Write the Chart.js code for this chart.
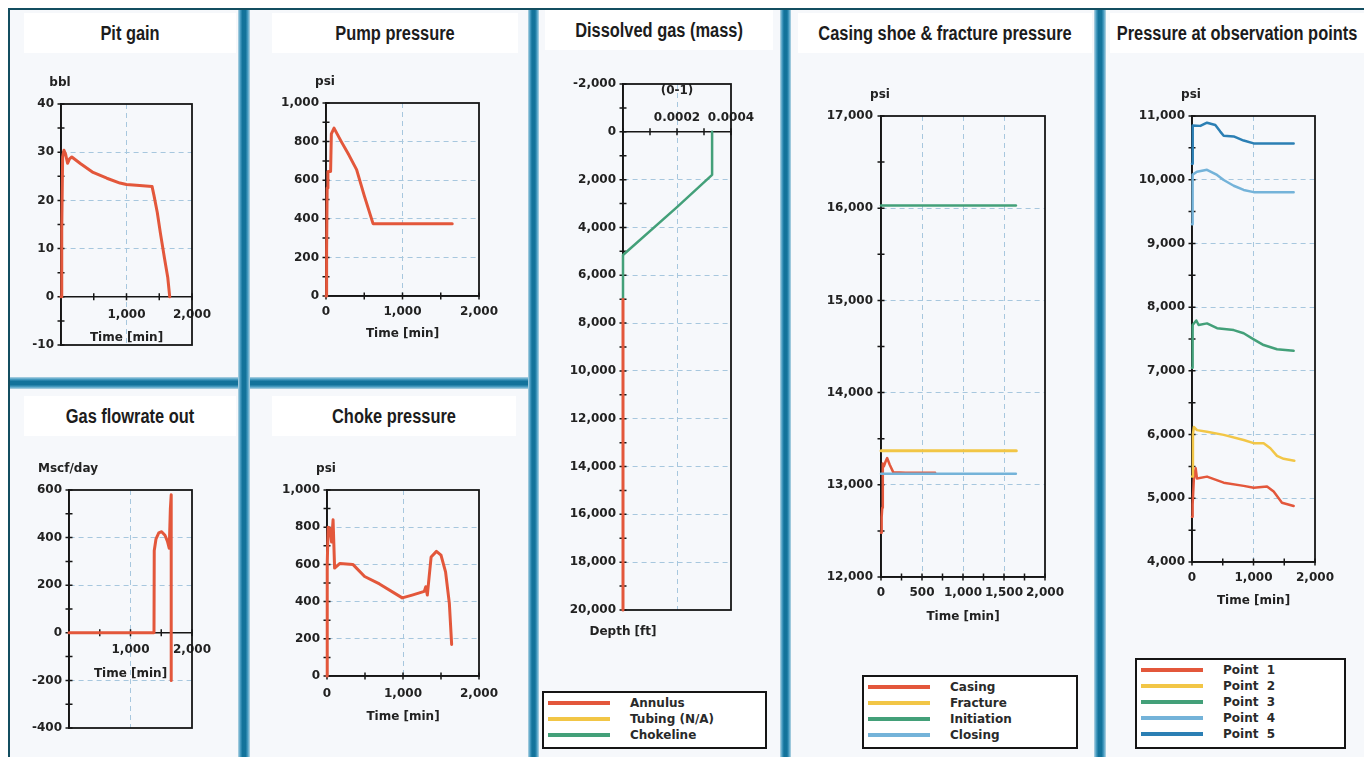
<!DOCTYPE html>
<html>
<head>
<meta charset="utf-8">
<script src="https://cdn.jsdelivr.net/npm/chart.js@4.4.1/dist/chart.umd.min.js"></script>
<style>
  html, body { margin: 0; padding: 0; background: #fff; }
  #page { position: relative; width: 1364px; height: 757px; overflow: hidden; background: #fff; }
  .bg { position: absolute; left: 10px; top: 10px; width: 1354px; height: 747px; background: #f6f8fb; }
  .edge { position: absolute; background: #134d60; }
  .sepV { position: absolute; top: 10px; height: 747px;
    background: linear-gradient(90deg, #b8d6e4 0%, #4c9fc4 18%, #13739b 36%, #13739b 64%, #4c9fc4 82%, #b8d6e4 100%); }
  .sepH { position: absolute;
    background: linear-gradient(180deg, #b8d6e4 0%, #4c9fc4 18%, #13739b 36%, #13739b 64%, #4c9fc4 82%, #b8d6e4 100%); }
  .ttl { position: absolute; height: 40px; background: #fff; white-space: nowrap;
    font: bold 20px "Liberation Sans", Arial, sans-serif; line-height: 40px; color: #1c1c1c; }
  .ttl span { position: absolute; left: 50%; top: 0; transform: translateX(-50%) scaleX(0.82); transform-origin: 50% 50%; }
  .chart { position: absolute; }
  .legend { position: absolute; box-sizing: border-box; border: 2.5px solid #151515; background: #fff; padding-top: 2px;
    font: bold 12px "DejaVu Sans", sans-serif; color: #2a2a2a; }
  .legend .row { position: relative; height: 16px; }
  .legend .sw { position: absolute; left: 4px; top: 6px; width: 62px; height: 4px; }
  .legend .lb { position: absolute; left: 86px; top: 0; line-height: 16px; white-space: pre; }
</style>
</head>
<body>
<div id="page">
  <div class="bg"></div>

  <div class="ttl" style="left:24px;top:13px;width:212px;"><span>Pit gain</span></div>
  <div class="ttl" style="left:272px;top:13px;width:246px;"><span>Pump pressure</span></div>
  <div class="ttl" style="left:24px;top:396px;width:212px;"><span>Gas flowrate out</span></div>
  <div class="ttl" style="left:272px;top:396px;width:244px;"><span>Choke pressure</span></div>
  <div class="ttl" style="left:545px;top:10px;width:228px;"><span>Dissolved gas (mass)</span></div>
  <div class="ttl" style="left:798px;top:13px;width:294px;"><span>Casing shoe &amp; fracture pressure</span></div>
  <div class="ttl" style="left:1110px;top:13px;width:254px;"><span>Pressure at observation points</span></div>

  <div class="chart" id="pit"></div>
  <div class="chart" id="pump"></div>
  <div class="chart" id="gas"></div>
  <div class="chart" id="choke"></div>
  <div class="chart" id="dissolved"></div>
  <div class="chart" id="casing"></div>
  <div class="chart" id="obs"></div>

  <div class="legend" id="legDissolved" style="left:542px;top:691px;width:225px;height:58px;"></div>
  <div class="legend" id="legCasing" style="left:862px;top:675px;width:216px;height:74px;"></div>
  <div class="legend" id="legObs" style="left:1135px;top:658px;width:211px;height:91px;"></div>

  <div class="sepH" style="left:10px;top:377px;width:518px;height:12px;"></div>
  <div class="sepV" style="left:238px;width:12px;"></div>
  <div class="sepV" style="left:528px;width:11px;"></div>
  <div class="sepV" style="left:780px;width:11px;"></div>
  <div class="sepV" style="left:1094px;width:12px;"></div>

  <div class="edge" style="left:8px;top:8px;width:1356px;height:2px;"></div>
  <div class="edge" style="left:8px;top:8px;width:2px;height:749px;"></div>
</div>

<script>
// ---- data (time in min) ----
const pitTime = [0, 8, 15, 25, 45, 70, 100, 130, 165, 300, 490, 700, 900, 1000, 1200, 1390, 1420, 1470, 1520, 1580, 1630, 1660];
const pitGain = [0, 13, 14, 29, 30.4, 29.6, 27.7, 28.6, 29, 27.6, 25.8, 24.6, 23.6, 23.3, 23.1, 22.9, 21, 17.5, 13, 8, 4, 0];

const pumpTime = [0, 8, 15, 25, 60, 70, 105, 200, 300, 400, 500, 615, 1000, 1650];
const pumpPsi = [0, 230, 560, 645, 645, 840, 870, 800, 730, 655, 520, 375, 375, 375];

const gasTime = [0, 1382, 1386, 1415, 1460, 1506, 1560, 1600, 1630, 1648, 1662, 1662];
const gasRate = [0, 0, 345, 395, 420, 425, 410, 385, 355, 520, 580, -200];

const chokeTime = [0, 3, 15, 40, 60, 80, 100, 170, 340, 495, 690, 990, 1120, 1280, 1300, 1320, 1370, 1440, 1500, 1560, 1610, 1640];
const chokePsi = [0, 600, 800, 790, 720, 840, 580, 605, 600, 535, 495, 420, 435, 455, 480, 435, 640, 670, 650, 560, 390, 170];

// dissolved gas: mass fraction vs depth (ft)
const annulusFrac = [0, 0];
const annulusDepth = [7000, 20000];
const chokelineFrac = [0.00033, 0.00033, 0.0002, 0, 0];
const chokelineDepth = [0, 1800, 3150, 5150, 7000];

const casingTime = [0, 8, 15, 22, 35, 55, 75, 105, 150, 300, 500, 660];
const casingPsi = [12480, 12650, 12750, 13230, 13200, 13250, 13290, 13220, 13135, 13130, 13130, 13130];
const fractureTime = [0, 1650];
const fracturePsi = [13370, 13370];
const initiationTime = [0, 1645];
const initiationPsi = [16030, 16030];
const closingTime = [0, 1645];
const closingPsi = [13120, 13120];

const point1Time = [0, 10, 30, 60, 81, 244, 515, 840, 1003, 1220, 1328, 1463, 1653];
const point1Psi = [4710, 4900, 5300, 5470, 5310, 5340, 5245, 5195, 5165, 5185, 5105, 4930, 4880];
const point2Time = [0, 15, 30, 81, 244, 515, 840, 1003, 1165, 1274, 1382, 1490, 1664];
const point2Psi = [5340, 6000, 6120, 6070, 6045, 5995, 5915, 5865, 5865, 5785, 5665, 5620, 5590];
const point3Time = [0, 10, 70, 108, 244, 407, 678, 840, 1003, 1165, 1382, 1653];
const point3Psi = [7050, 7720, 7790, 7720, 7745, 7670, 7640, 7590, 7495, 7405, 7340, 7315];
const point4Time = [0, 10, 81, 244, 407, 515, 678, 840, 1003, 1653];
const point4Psi = [9300, 10080, 10125, 10155, 10075, 9995, 9905, 9840, 9805, 9805];
const point5Time = [0, 8, 15, 136, 244, 379, 460, 515, 678, 840, 1003, 1653];
const point5Psi = [10250, 10600, 10850, 10845, 10895, 10860, 10755, 10690, 10680, 10615, 10570, 10570];

// ---- look ----
const RED = '#e3573b', YELLOW = '#f2c646', GREEN = '#43a079', LBLUE = '#74b3d9', DBLUE = '#2b7fb4';
const INK = '#161616', GRID = '#a7c7de', LABEL = '#222';
const TICK_FONT = { family: 'DejaVu Sans', size: 12, weight: 'bold' };
const Y_W = 58; // y axis box width; labels are clipped to it

const near = (a, b) => Math.abs(a - b) <= Math.abs(b) * 1e-6 + 1e-12;
const thousands = (v) => v.toLocaleString('en-US');
const pts = (xs, ys) => xs.map((x, i) => ({ x, y: ys[i] }));

function line(label, xs, ys, color, width = 3) {
  return { label, data: pts(xs, ys), borderColor: color, borderWidth: width, pointRadius: 0, tension: 0,
    fill: false, clip: 6, borderJoinStyle: 'round', borderCapStyle: 'round' };
}

// frame, ticks across the axes, unit text
const panelDecor = {
  id: 'panelDecor',
  beforeDatasetsDraw(chart, args, opts) {
    const { ctx, chartArea: a, scales: { x, y } } = chart;
    const axisY = opts.xAt == null ? a.bottom : y.getPixelForValue(opts.xAt);
    ctx.save();
    ctx.strokeStyle = INK;
    ctx.lineWidth = 1.8;
    ctx.strokeRect(a.left, a.top, a.right - a.left, a.bottom - a.top);
    ctx.lineWidth = 1.5;
    ctx.beginPath();
    for (const t of y.ticks) { const p = y.getPixelForValue(t.value); ctx.moveTo(a.left - 3.5, p); ctx.lineTo(a.left + 3.5, p); }
    for (const t of x.ticks) { const p = x.getPixelForValue(t.value); ctx.moveTo(p, axisY - 3.5); ctx.lineTo(p, axisY + 3.5); }
    ctx.stroke();
    ctx.restore();
  },
  afterDraw(chart, args, opts) {
    const { ctx, chartArea: a } = chart;
    ctx.save();
    ctx.font = 'bold 12px "DejaVu Sans"';
    ctx.fillStyle = LABEL;
    ctx.textAlign = 'center';
    ctx.textBaseline = 'middle';
    if (opts.unit) ctx.fillText(opts.unit, a.left - 1, a.top - 21);
    if (opts.foot) ctx.fillText(opts.foot, a.left, a.bottom + 22);
    ctx.restore();
  },
};

function scale(a, extra) {
  return Object.assign({
    type: 'linear', min: a.min, max: a.max, reverse: !!a.reverse,
    ticks: {
      stepSize: a.step, autoSkip: false, maxRotation: 0, minRotation: 0, padding: a.pad, color: LABEL, font: TICK_FONT,
      callback: (v) => (a.labels.some((l) => near(v, l)) ? (a.fmt || thousands)(v) : ''),
    },
    grid: { drawTicks: false, lineWidth: 1,
      color: (c) => (c.tick && a.grid.some((g) => near(c.tick.value, g)) ? GRID : 'rgba(0,0,0,0)') },
    border: { color: INK, width: 1.6, dash: [5, 4] },
  }, extra);
}

function panelChart(id, s) {
  const wrap = document.getElementById(id);
  Object.assign(wrap.style, { left: s.box.x + 'px', top: s.box.y + 'px', width: s.box.w + 'px', height: s.box.h + 'px' });
  const cross = s.x.at !== undefined;
  const padding = {
    left: s.plot.l - s.box.x - Y_W,
    top: s.plot.t - s.box.y,
    right: s.box.x + s.box.w - s.plot.r,
    bottom: s.box.y + s.box.h - s.plot.b - (cross ? 0 : s.x.height),
  };
  const canvas = document.createElement('canvas');
  wrap.appendChild(canvas);
  return new Chart(canvas, {
    type: 'line',
    data: { datasets: s.datasets },
    options: {
      responsive: true, maintainAspectRatio: false, animation: false, events: [],
      layout: { padding },
      plugins: {
        legend: { display: false }, tooltip: { enabled: false },
        panelDecor: { unit: s.unit || '', foot: s.foot || '', xAt: cross ? s.x.at : null },
      },
      scales: {
        x: scale(s.x, {
          position: cross ? { y: s.x.at } : 'bottom',
          afterFit: (sc) => { sc.height = s.x.height; },
          title: { display: !!s.x.title, text: s.x.title || '', color: LABEL,
            font: { family: 'DejaVu Sans', size: 12, weight: 'bold' },
            padding: { top: 4, bottom: s.x.titlePad ?? 4 } },
        }),
        y: scale(s.y, { position: 'left', afterFit: (sc) => { sc.width = Y_W; } }),
      },
    },
    plugins: [panelDecor],
  });
}

const TIME = 'Time [min]';

panelChart('pit', {
  box: { x: 0, y: 57, w: 238, h: 320 }, plot: { l: 61, t: 104, r: 192, b: 345 }, unit: 'bbl',
  x: { min: 0, max: 2000, step: 500, labels: [1000, 2000], grid: [1000], pad: 11, at: 0, height: 52, title: TIME },
  y: { min: -10, max: 40, step: 5, labels: [-10, 0, 10, 20, 30, 40], grid: [10, 20, 30], pad: 7 },
  datasets: [line('Pit gain', pitTime, pitGain, RED)],
});

panelChart('pump', {
  box: { x: 250, y: 57, w: 278, h: 320 }, plot: { l: 326, t: 103, r: 479, b: 296 }, unit: 'psi',
  x: { min: 0, max: 2000, step: 500, labels: [0, 1000, 2000], grid: [1000], pad: 9, height: 49, title: TIME },
  y: { min: 0, max: 1000, step: 100, labels: [0, 200, 400, 600, 800, 1000], grid: [200, 400, 600, 800], pad: 7 },
  datasets: [line('Pump pressure', pumpTime, pumpPsi, RED)],
});

panelChart('gas', {
  box: { x: 0, y: 442, w: 238, h: 315 }, plot: { l: 69, t: 490, r: 192, b: 728 }, unit: 'Mscf/day',
  x: { min: 0, max: 2000, step: 500, labels: [1000, 2000], grid: [1000], pad: 10, at: 0, height: 52, title: TIME },
  y: { min: -400, max: 600, step: 100, labels: [-400, -200, 0, 200, 400, 600], grid: [-200, 200, 400], pad: 7 },
  datasets: [line('Gas flowrate out', gasTime, gasRate, RED)],
});

panelChart('choke', {
  box: { x: 250, y: 442, w: 278, h: 315 }, plot: { l: 327, t: 490, r: 479, b: 676 }, unit: 'psi',
  x: { min: 0, max: 2000, step: 500, labels: [0, 1000, 2000], grid: [1000], pad: 11, height: 52, title: TIME },
  y: { min: 0, max: 1000, step: 100, labels: [0, 200, 400, 600, 800, 1000], grid: [200, 400, 600, 800], pad: 7 },
  datasets: [line('Choke pressure', chokeTime, chokePsi, RED)],
});

panelChart('dissolved', {
  box: { x: 539, y: 57, w: 241, h: 620 }, plot: { l: 623, t: 84, r: 731, b: 610 }, foot: 'Depth [ft]',
  x: { min: 0, max: 0.0004, step: 0.0001, labels: [0.0002, 0.0004], grid: [0.0002], pad: -21, at: 0, height: 0,
    title: '(0-1)', titlePad: 34, fmt: (v) => v.toFixed(4) },
  y: { min: -2000, max: 20000, step: 1000, reverse: true,
    labels: [-2000, 0, 2000, 4000, 6000, 8000, 10000, 12000, 14000, 16000, 18000, 20000],
    grid: [2000, 4000, 6000, 8000, 10000, 12000, 14000, 16000, 18000], pad: 7 },
  datasets: [
    line('Annulus', annulusFrac, annulusDepth, RED),
    line('Chokeline', chokelineFrac, chokelineDepth, GREEN, 2.5),
  ],
});

panelChart('casing', {
  box: { x: 791, y: 57, w: 303, h: 600 }, plot: { l: 881, t: 116, r: 1045, b: 577 }, unit: 'psi',
  x: { min: 0, max: 2000, step: 250, labels: [0, 500, 1000, 1500, 2000], grid: [500, 1000, 1500], pad: 9, height: 51, title: TIME },
  y: { min: 12000, max: 17000, step: 500, labels: [12000, 13000, 14000, 15000, 16000, 17000],
    grid: [13000, 14000, 15000, 16000], pad: 8 },
  datasets: [
    line('Initiation', initiationTime, initiationPsi, GREEN, 2.5),
    line('Fracture', fractureTime, fracturePsi, YELLOW, 3),
    line('Closing', closingTime, closingPsi, LBLUE, 2.5),
    line('Casing', casingTime, casingPsi, RED, 2.5),
  ],
});

panelChart('obs', {
  box: { x: 1106, y: 57, w: 258, h: 590 }, plot: { l: 1192, t: 116, r: 1315, b: 562 }, unit: 'psi',
  x: { min: 0, max: 2000, step: 500, labels: [0, 1000, 2000], grid: [1000], pad: 9, height: 50, title: TIME },
  y: { min: 4000, max: 11000, step: 500, labels: [4000, 5000, 6000, 7000, 8000, 9000, 10000, 11000],
    grid: [5000, 6000, 7000, 8000, 9000, 10000], pad: 7 },
  datasets: [
    line('Point 5', point5Time, point5Psi, DBLUE, 2.5),
    line('Point 4', point4Time, point4Psi, LBLUE, 2.5),
    line('Point 3', point3Time, point3Psi, GREEN, 2.5),
    line('Point 2', point2Time, point2Psi, YELLOW, 2.5),
    line('Point 1', point1Time, point1Psi, RED, 2.5),
  ],
});

// ---- legends ----
function legend(id, items) {
  document.getElementById(id).innerHTML = items.map(([text, color]) =>
    `<div class="row"><span class="sw" style="background:${color}"></span><span class="lb">${text}</span></div>`).join('');
}
legend('legDissolved', [['Annulus', RED], ['Tubing (N/A)', YELLOW], ['Chokeline', GREEN]]);
legend('legCasing', [['Casing', RED], ['Fracture', YELLOW], ['Initiation', GREEN], ['Closing', LBLUE]]);
legend('legObs', [['Point  1', RED], ['Point  2', YELLOW], ['Point  3', GREEN], ['Point  4', LBLUE], ['Point  5', DBLUE]]);
</script>
</body>
</html>
